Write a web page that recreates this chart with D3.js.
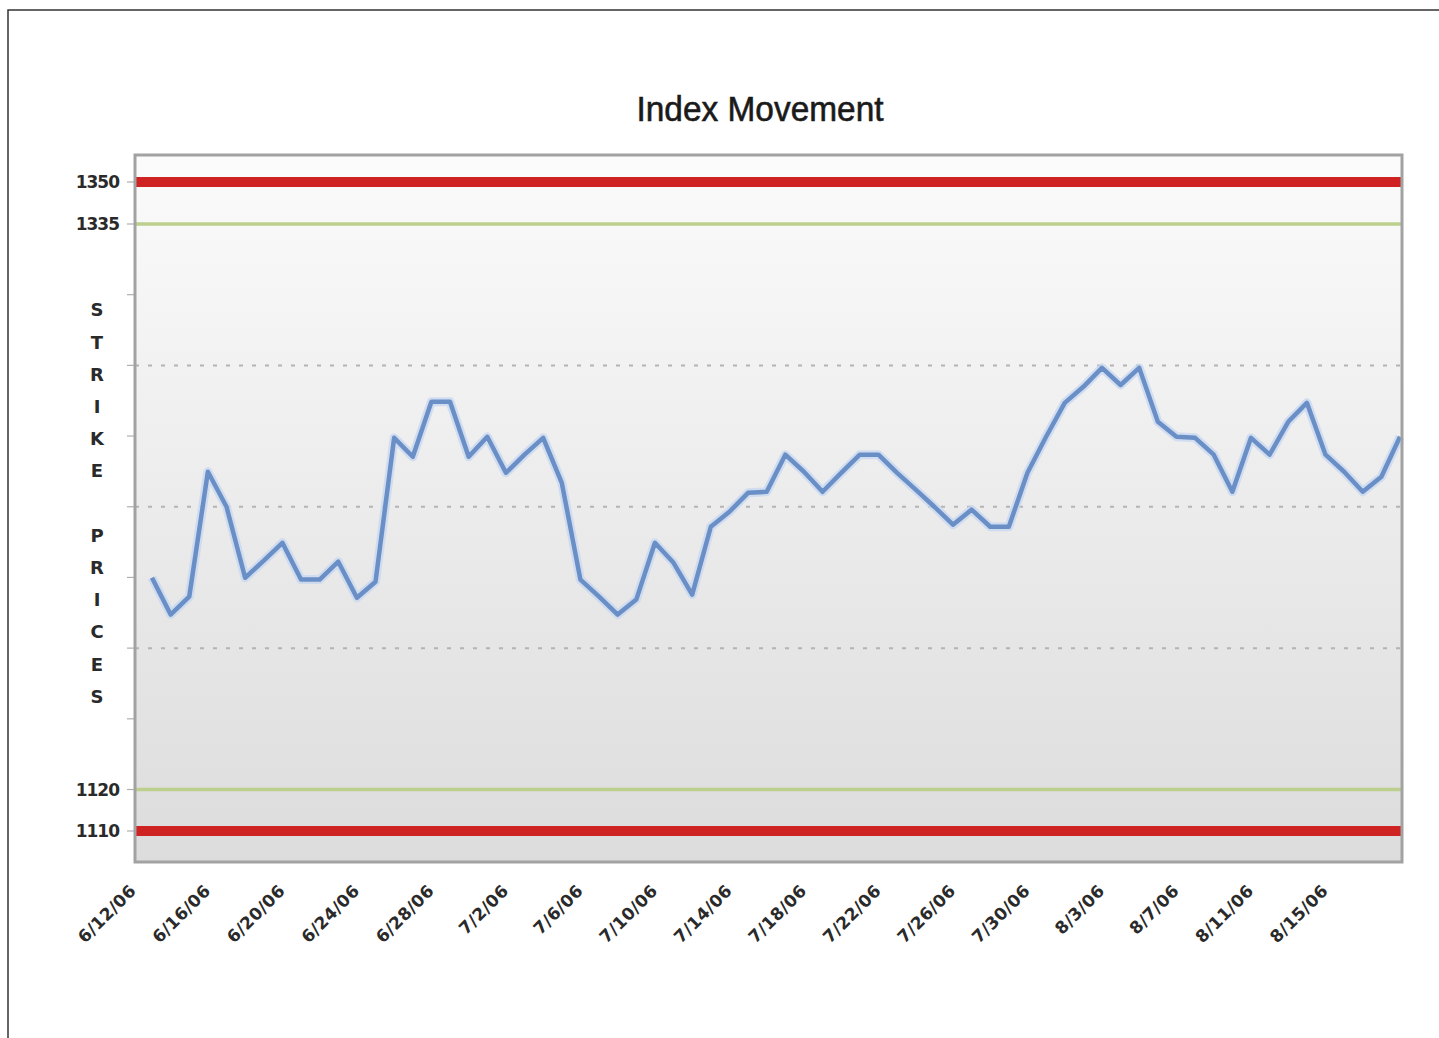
<!DOCTYPE html>
<html>
<head>
<meta charset="utf-8">
<script src="https://cdn.jsdelivr.net/npm/d3@7"></script>
<style>
  html, body { margin: 0; padding: 0; background: #fff; }
  svg { display: block; }
</style>
</head>
<body>
<svg id="chart" width="1439" height="1038"></svg>
<script>
// ---------- DATA ----------
const dates = [
  "6/12/06","6/13/06","6/14/06","6/15/06","6/16/06","6/17/06","6/18/06","6/19/06","6/20/06","6/21/06",
  "6/22/06","6/23/06","6/24/06","6/25/06","6/26/06","6/27/06","6/28/06","6/29/06","6/30/06","7/1/06",
  "7/2/06","7/3/06","7/4/06","7/5/06","7/6/06","7/7/06","7/8/06","7/9/06","7/10/06","7/11/06",
  "7/12/06","7/13/06","7/14/06","7/15/06","7/16/06","7/17/06","7/18/06","7/19/06","7/20/06","7/21/06",
  "7/22/06","7/23/06","7/24/06","7/25/06","7/26/06","7/27/06","7/28/06","7/29/06","7/30/06","7/31/06",
  "8/1/06","8/2/06","8/3/06","8/4/06","8/5/06","8/6/06","8/7/06","8/8/06","8/9/06","8/10/06",
  "8/11/06","8/12/06","8/13/06","8/14/06","8/15/06","8/16/06","8/17/06","8/18/06"
];
const indexValues = [
  1200.5,1186.5,1193.3,1240.8,1227.5,1200.5,1207.0,1213.8,1199.8,1199.8,
  1206.6,1192.9,1199.0,1253.7,1246.5,1267.4,1267.4,1246.5,1254.1,1240.4,
  1247.3,1253.7,1236.6,1199.8,1193.3,1186.5,1192.2,1213.8,1206.2,1194.1,
  1219.9,1225.6,1232.8,1233.2,1247.3,1240.8,1233.2,1240.4,1247.3,1247.3,
  1240.4,1234.0,1227.5,1220.7,1226.4,1219.9,1219.9,1240.4,1254.1,1267.0,
  1273.1,1280.3,1273.8,1280.3,1259.8,1254.1,1253.7,1247.3,1233.2,1253.7,
  1247.3,1259.8,1267.0,1247.3,1240.8,1233.2,1238.9,1254.1
];
const xTickLabels = ["6/12/06","6/16/06","6/20/06","6/24/06","6/28/06","7/2/06","7/6/06","7/10/06",
  "7/14/06","7/18/06","7/22/06","7/26/06","7/30/06","8/3/06","8/7/06","8/11/06","8/15/06"];
const yTickValues = [1350, 1335, 1120, 1110];
const redLevels = [1350, 1110];
const greenLevels = [1335, 1120];
const gridLevels = [1173.75, 1227.5, 1281.25];
const minorYTicks = [1350, 1335, 1308.125, 1281.25, 1254.375, 1227.5, 1200.625, 1173.75, 1146.875, 1120, 1110];
const yAxisTitle = "STRIKE PRICES";
const chartTitle = "Index Movement";

// ---------- LAYOUT ----------
const svg = d3.select("#chart");
const frame = { left: 135, right: 1402, top: 155, bottom: 862 };

const x = d3.scalePoint().domain(dates).range([152, 1400]);
const y = d3.scaleLinear().domain([1110, 1120, 1335, 1350]).range([831, 789.5, 224, 182]);

// outer border of the picture
svg.append("rect").attr("x", 8).attr("y", 10).attr("width", 1450).attr("height", 1050)
  .attr("fill", "none").attr("stroke", "#333").attr("stroke-width", 1.5);

// background gradient
const defs = svg.append("defs");
const grad = defs.append("linearGradient").attr("id", "bg").attr("x1", 0).attr("y1", 0).attr("x2", 0).attr("y2", 1);
grad.append("stop").attr("offset", "0%").attr("stop-color", "#fbfbfb");
grad.append("stop").attr("offset", "100%").attr("stop-color", "#dcdcdc");

svg.append("rect")
  .attr("x", frame.left).attr("y", frame.top)
  .attr("width", frame.right - frame.left).attr("height", frame.bottom - frame.top)
  .attr("fill", "url(#bg)");

// title
svg.append("text")
  .attr("x", 760).attr("y", 121)
  .attr("text-anchor", "middle")
  .attr("font-family", "Liberation Sans, Arial, sans-serif")
  .attr("font-size", 35)
  .attr("textLength", 247).attr("lengthAdjust", "spacingAndGlyphs")
  .attr("fill", "#1a1a1a").attr("stroke", "#1a1a1a").attr("stroke-width", 0.6)
  .text(chartTitle);

// dashed grid lines
svg.selectAll("line.grid").data(gridLevels).enter().append("line")
  .attr("class", "grid")
  .attr("x1", frame.left).attr("x2", frame.right)
  .attr("y1", d => y(d)).attr("y2", d => y(d))
  .attr("stroke", "#b4b4b4").attr("stroke-width", 2)
  .attr("stroke-dasharray", "4,9");

// minor y ticks
svg.selectAll("line.ytick").data(minorYTicks).enter().append("line")
  .attr("class", "ytick")
  .attr("x1", frame.left - 8).attr("x2", frame.left)
  .attr("y1", d => y(d)).attr("y2", d => y(d))
  .attr("stroke", "#b0b0b0").attr("stroke-width", 1.2);

// green levels
svg.selectAll("line.green").data(greenLevels).enter().append("line")
  .attr("class", "green")
  .attr("x1", frame.left).attr("x2", frame.right)
  .attr("y1", d => y(d)).attr("y2", d => y(d))
  .attr("stroke", "#bccf8c").attr("stroke-width", 3.5);

// red levels
svg.selectAll("line.red").data(redLevels).enter().append("line")
  .attr("class", "red")
  .attr("x1", frame.left).attr("x2", frame.right)
  .attr("y1", d => y(d)).attr("y2", d => y(d))
  .attr("stroke", "#cf2323").attr("stroke-width", 10);

// index line
const line = d3.line().x((d, i) => x(dates[i])).y(d => y(d));
svg.append("path").datum(indexValues)
  .attr("d", line).attr("fill", "none")
  .attr("stroke", "#c6d7f0").attr("stroke-width", 9).attr("stroke-opacity", 0.75)
  .attr("stroke-linejoin", "round");
svg.append("path").datum(indexValues)
  .attr("d", line).attr("fill", "none")
  .attr("stroke", "#6a8ec6").attr("stroke-width", 4.5)
  .attr("stroke-linejoin", "round");

// frame border
svg.append("rect")
  .attr("x", frame.left).attr("y", frame.top)
  .attr("width", frame.right - frame.left).attr("height", frame.bottom - frame.top)
  .attr("fill", "none").attr("stroke", "#a2a2a2").attr("stroke-width", 3);

// y tick labels
svg.selectAll("text.ylab").data(yTickValues).enter().append("text")
  .attr("class", "ylab")
  .attr("x", 119).attr("y", d => y(d))
  .attr("dy", "0.36em")
  .attr("text-anchor", "end")
  .attr("font-family", "DejaVu Sans, Verdana, sans-serif")
  .attr("font-size", 17).attr("font-weight", "bold")
  .attr("letter-spacing", "-1")
  .attr("fill", "#2a2a2a")
  .text(d => d);

// y axis title, stacked letters
const letters = yAxisTitle.split("");
svg.selectAll("text.ytitle").data(letters).enter().append("text")
  .attr("class", "ytitle")
  .attr("x", 97).attr("y", (d, i) => 310 + i * 32.2)
  .attr("dy", "0.36em")
  .attr("text-anchor", "middle")
  .attr("font-family", "DejaVu Sans, Verdana, sans-serif")
  .attr("font-size", 18).attr("font-weight", "bold")
  .attr("fill", "#2a2a2a")
  .text(d => d);

// x tick labels
svg.selectAll("text.xlab").data(xTickLabels).enter().append("text")
  .attr("class", "xlab")
  .attr("transform", d => `translate(${x(d) - 15},${frame.bottom + 30}) rotate(-45)`)
  .attr("text-anchor", "end")
  .attr("font-family", "DejaVu Sans, Verdana, sans-serif")
  .attr("font-size", 17).attr("font-weight", "bold")
  .attr("letter-spacing", "0.3")
  .attr("fill", "#2a2a2a")
  .text(d => d);
</script>
</body>
</html>
